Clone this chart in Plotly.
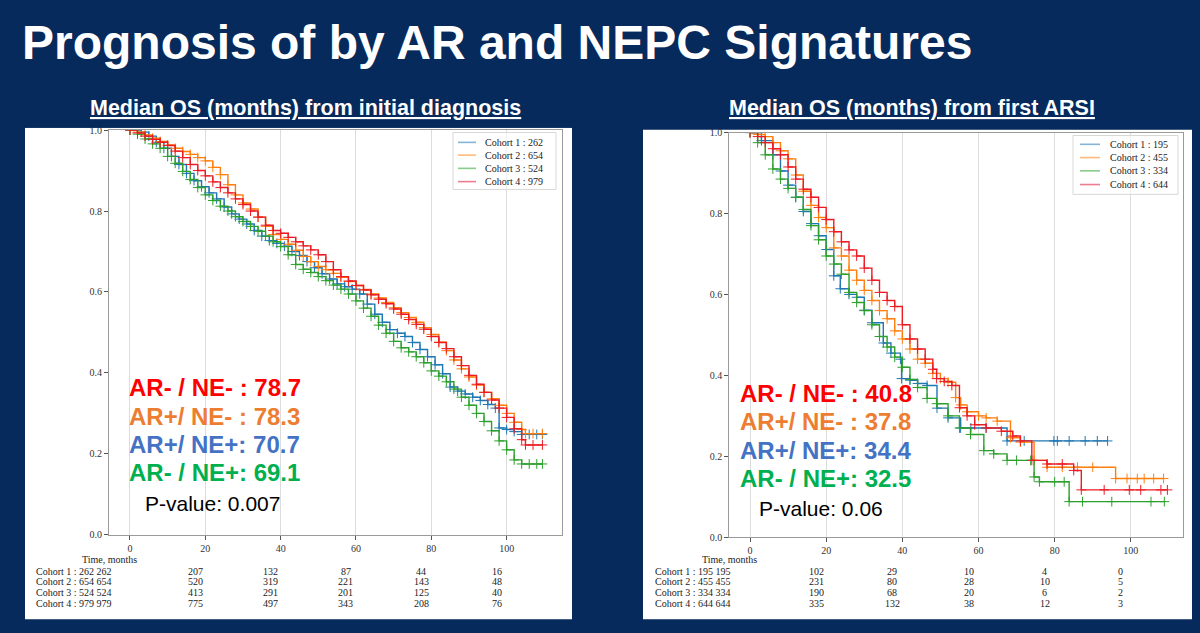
import plotly.graph_objects as go

W, H = 1200, 633
NAVY = "#062a5c"

# ---------------- data ----------------
cohort_names = ["Cohort 1", "Cohort 2", "Cohort 3", "Cohort 4"]
cohort_colors = ["#1f77b4", "#ff7f0e", "#2ca02c", "#ec1c24"]
legend_colors = ["rgba(31,119,180,0.55)", "rgba(255,127,14,0.55)",
                 "rgba(44,160,44,0.55)", "rgba(220,20,60,0.55)"]

left_n = [262, 654, 524, 979]
right_n = [195, 455, 334, 644]

tick_times = [0, 20, 40, 60, 80, 100]
risk_times = [20, 40, 60, 80, 100]

left_risk_c1 = [207, 132, 87, 44, 16]
left_risk_c2 = [520, 319, 221, 143, 48]
left_risk_c3 = [413, 291, 201, 125, 40]
left_risk_c4 = [775, 497, 343, 208, 76]
right_risk_c1 = [102, 29, 10, 4, 0]
right_risk_c2 = [231, 80, 28, 10, 5]
right_risk_c3 = [190, 68, 20, 6, 2]
right_risk_c4 = [335, 132, 38, 12, 3]

group_labels = ["AR- / NE- :", "AR+/ NE- :", "AR+/ NE+:", "AR- / NE+:"]
group_colors = ["#ff0000", "#ed7d31", "#4472c4", "#00b050"]
left_medians = [78.7, 78.3, 70.7, 69.1]
right_medians = [40.8, 37.8, 34.4, 32.5]
left_pvalue = "0.007"
right_pvalue = "0.06"

# Left panel: OS from initial diagnosis (months, survival)
left_c1_t = [0, 3, 5, 7, 9, 11, 13, 15, 17, 19, 21, 23, 25, 27, 29, 31, 33, 35, 37, 39,
             41, 43, 45, 47, 49, 51, 53, 55, 57, 59, 61, 63, 65, 67, 69, 71, 73, 75, 77, 79,
             81, 83, 85, 87, 89, 91, 93, 95, 97, 98, 100, 102, 104, 106, 108, 109.5]
left_c1_s = [1.0, 0.995, 0.985, 0.97, 0.955, 0.935, 0.915, 0.893, 0.875, 0.86,
             0.845, 0.83, 0.81, 0.793, 0.78, 0.768, 0.752, 0.738, 0.727, 0.72,
             0.713, 0.70, 0.69, 0.675, 0.66, 0.645, 0.632, 0.62, 0.613, 0.607,
             0.595, 0.57, 0.545, 0.525, 0.507, 0.498, 0.49, 0.475, 0.458, 0.44,
             0.42, 0.398, 0.365, 0.355, 0.348, 0.34, 0.332, 0.322, 0.313, 0.264,
             0.26, 0.255, 0.248, 0.248, 0.248, 0.248]

left_c2_t = [0, 2, 4, 6, 8, 10, 12, 14, 16, 18, 20, 22, 24, 26, 28, 30, 32, 34, 36, 38,
             40, 42, 44, 46, 48, 50, 52, 54, 56, 58, 60, 62, 64, 66, 68, 70, 72, 74, 76, 78,
             80, 82, 84, 86, 88, 90, 92, 94, 96, 98, 100, 102, 104, 105, 107, 109.5]
left_c2_s = [1.0, 0.995, 0.988, 0.98, 0.972, 0.963, 0.955, 0.947, 0.94, 0.932,
             0.924, 0.908, 0.89, 0.865, 0.84, 0.82, 0.805, 0.785, 0.762, 0.742,
             0.73, 0.718, 0.703, 0.688, 0.675, 0.663, 0.655, 0.646, 0.636, 0.626,
             0.616, 0.606, 0.595, 0.585, 0.574, 0.561, 0.549, 0.537, 0.525, 0.512,
             0.495, 0.476, 0.455, 0.432, 0.41, 0.39, 0.37, 0.352, 0.336, 0.32,
             0.30, 0.278, 0.26, 0.25, 0.25, 0.25]

left_c3_t = [0, 2, 4, 6, 8, 10, 12, 14, 16, 18, 20, 22, 24, 26, 28, 30, 32, 34, 36, 38,
             40, 42, 44, 46, 48, 50, 52, 54, 56, 58, 60, 62, 64, 66, 68, 70, 72, 74, 76, 78,
             80, 82, 84, 86, 88, 90, 92, 94, 96, 98, 100, 102, 104, 106, 108, 109.5]
left_c3_s = [1.0, 0.99, 0.978, 0.966, 0.955, 0.935, 0.918, 0.898, 0.878, 0.858,
             0.84, 0.826, 0.812, 0.80, 0.786, 0.774, 0.762, 0.75, 0.738, 0.724,
             0.712, 0.692, 0.668, 0.656, 0.648, 0.638, 0.628, 0.617, 0.607, 0.595,
             0.578, 0.56, 0.54, 0.518, 0.498, 0.478, 0.462, 0.452, 0.44, 0.425,
             0.405, 0.392, 0.378, 0.36, 0.34, 0.32, 0.30, 0.28, 0.257, 0.232,
             0.21, 0.185, 0.175, 0.175, 0.175, 0.175]

left_c4_t = [0, 2, 4, 6, 8, 10, 12, 14, 16, 18, 20, 22, 24, 26, 28, 30, 32, 34, 36, 38,
             40, 42, 44, 46, 48, 50, 52, 54, 56, 58, 60, 62, 64, 66, 68, 70, 72, 74, 76, 78,
             80, 82, 84, 86, 88, 90, 92, 94, 96, 98, 100, 102, 104, 105, 107, 109.5]
left_c4_s = [1.0, 0.993, 0.985, 0.977, 0.97, 0.962, 0.948, 0.932, 0.915, 0.90,
             0.887, 0.872, 0.858, 0.845, 0.83, 0.816, 0.80, 0.785, 0.765, 0.752,
             0.745, 0.735, 0.724, 0.714, 0.704, 0.692, 0.675, 0.655, 0.638, 0.627,
             0.616, 0.605, 0.593, 0.582, 0.571, 0.558, 0.545, 0.532, 0.52, 0.508,
             0.49, 0.475, 0.46, 0.44, 0.418, 0.394, 0.372, 0.352, 0.333, 0.313,
             0.29, 0.262, 0.235, 0.222, 0.222, 0.222]

# Right panel: OS from first ARSI (months, survival)
right_c1_t = [0, 3, 6, 8, 10, 12, 14, 16, 18, 20, 22, 23.7, 26, 28, 30, 32, 35, 37, 39.5, 39.8,
              42, 44, 46.5, 49.1, 52, 55.3, 58, 62, 67.5, 72, 79.8, 80.7, 83.8, 88, 91.2, 93.9]
right_c1_s = [1.0, 0.98, 0.945, 0.905, 0.87, 0.84, 0.805, 0.775, 0.745, 0.711,
              0.646, 0.614, 0.60, 0.593, 0.561, 0.53, 0.48, 0.455, 0.44, 0.392,
              0.388, 0.38, 0.375, 0.319, 0.295, 0.27, 0.27, 0.27, 0.238, 0.238,
              0.238, 0.238, 0.238, 0.238, 0.238, 0.238]

right_c2_t = [0, 2, 4, 6, 8, 10, 12, 14, 16, 18, 20, 22, 24, 26, 28, 30, 32, 34, 36, 38,
              40, 42, 44, 46, 48, 50, 52, 54, 55.3, 57, 60, 62, 64.9, 68.4, 71, 74.6, 78, 82,
              86, 90, 96, 99, 101.7, 103.5, 106, 108.6]
right_c2_s = [1.0, 0.995, 0.99, 0.975, 0.955, 0.935, 0.895, 0.855, 0.82, 0.79,
              0.765, 0.715, 0.695, 0.66, 0.635, 0.61, 0.585, 0.56, 0.54, 0.51,
              0.49, 0.465, 0.44, 0.43, 0.405, 0.392, 0.383, 0.345, 0.327, 0.31,
              0.30, 0.295, 0.287, 0.246, 0.235, 0.19, 0.173, 0.173, 0.173, 0.173,
              0.145, 0.145, 0.145, 0.145, 0.145, 0.145]

right_c3_t = [0, 2, 4, 6, 8, 10, 12, 14, 16, 18, 20, 22, 24, 26, 28, 30, 32, 34, 36, 38,
              40, 42, 44, 46.5, 49, 52, 55, 57.9, 61.4, 64, 67.5, 70, 73.7, 74.6, 76, 80,
              82.5, 83.8, 87.3, 95, 105.3, 108.8]
right_c3_s = [1.0, 0.975, 0.945, 0.91, 0.885, 0.862, 0.84, 0.81, 0.77, 0.735,
              0.695, 0.675, 0.65, 0.605, 0.58, 0.56, 0.525, 0.496, 0.47, 0.445,
              0.42, 0.39, 0.37, 0.343, 0.33, 0.30, 0.27, 0.254, 0.214, 0.206,
              0.19, 0.19, 0.19, 0.149, 0.137, 0.137, 0.137, 0.088, 0.088, 0.088,
              0.088, 0.088]

right_c4_t = [0, 2, 4, 6, 8, 10, 12, 14, 16, 18, 20, 22, 24, 26, 28, 30, 32, 34, 36, 38,
              40, 42, 44, 46, 48, 49, 51, 53, 55, 57, 59, 62, 66, 69, 71, 74, 78, 82, 85, 87,
              93, 99.6, 102.6, 107.9, 109.6]
right_c4_s = [1.0, 0.99, 0.975, 0.96, 0.945, 0.915, 0.885, 0.86, 0.84, 0.815,
              0.785, 0.755, 0.73, 0.71, 0.695, 0.665, 0.635, 0.605, 0.585, 0.57,
              0.525, 0.49, 0.465, 0.44, 0.415, 0.392, 0.385, 0.375, 0.32, 0.30,
              0.278, 0.27, 0.262, 0.25, 0.238, 0.19, 0.181, 0.181, 0.165, 0.117,
              0.117, 0.117, 0.117, 0.117, 0.117]

title_text = "Prognosis of by AR and NEPC Signatures"
left_heading = "Median OS (months) from initial diagnosis"
right_heading = "Median OS (months) from first ARSI"


# ---------------- helpers ----------------
def px(x):
    return x / W


def py(y):
    return 1 - y / H


SERIF = "Liberation Serif, Times New Roman, serif"
SANS = "Liberation Sans, Arial, sans-serif"

fig = go.Figure()

panels = [
    dict(xa="x", ya="y", curves=[(left_c1_t, left_c1_s), (left_c2_t, left_c2_s),
                                 (left_c3_t, left_c3_s), (left_c4_t, left_c4_s)]),
    dict(xa="x2", ya="y2", curves=[(right_c1_t, right_c1_s), (right_c2_t, right_c2_s),
                                   (right_c3_t, right_c3_s), (right_c4_t, right_c4_s)]),
]

for p in panels:
    for i, (t, s) in enumerate(p["curves"]):
        fig.add_trace(go.Scatter(
            x=t, y=s, mode="lines+markers", xaxis=p["xa"], yaxis=p["ya"],
            line=dict(color=cohort_colors[i], width=1.4, shape="hv"),
            marker=dict(symbol="cross-thin", size=7,
                        line=dict(color=cohort_colors[i], width=1)),
            showlegend=False, hoverinfo="skip"))

axis_common = dict(
    showline=True, mirror=True, linecolor="#9a9a9a", linewidth=1,
    ticks="outside", ticklen=4, tickcolor="#555",
    tickfont=dict(family=SERIF, size=10, color="#333"),
    zeroline=False,
)

fig.update_layout(
    width=W, height=H,
    margin=dict(l=0, r=0, t=0, b=0),
    paper_bgcolor=NAVY, plot_bgcolor="white",
    showlegend=False,
    xaxis=dict(domain=[px(109), px(562)], range=[-5.57, 114.7], tickvals=tick_times,
               showgrid=True, gridcolor="#dcdcdc", gridwidth=1, anchor="y", **axis_common),
    yaxis=dict(domain=[py(539), py(126.5)], range=[0, 1.0],
               tickvals=[0, 0.2, 0.4, 0.6, 0.8, 1.0],
               ticktext=["0.0", "0.2", "0.4", "0.6", "0.8", "1.0"],
               showgrid=False, anchor="x", **axis_common),
    xaxis2=dict(domain=[px(729.3), px(1183)], range=[-5.44, 113.7], tickvals=tick_times,
                showgrid=True, gridcolor="#dcdcdc", gridwidth=1, anchor="y2", **axis_common),
    yaxis2=dict(domain=[py(541.5), py(129)], range=[0, 1.0],
                tickvals=[0, 0.2, 0.4, 0.6, 0.8, 1.0],
                ticktext=["0.0", "0.2", "0.4", "0.6", "0.8", "1.0"],
                showgrid=False, anchor="x2", **axis_common),
)

shapes = []
# white panels
shapes.append(dict(type="rect", xref="paper", yref="paper", x0=px(25), x1=px(572),
                   y0=py(625), y1=py(124), fillcolor="white", line=dict(width=0), layer="below"))
shapes.append(dict(type="rect", xref="paper", yref="paper", x0=px(643), x1=px(1192),
                   y0=py(625), y1=py(126), fillcolor="white", line=dict(width=0), layer="below"))
# navy strips that crop the top of the panels
shapes.append(dict(type="rect", xref="paper", yref="paper", x0=px(20), x1=px(580),
                   y0=py(124), y1=py(118), fillcolor=NAVY, line=dict(width=0), layer="above"))
shapes.append(dict(type="rect", xref="paper", yref="paper", x0=px(640), x1=px(1198),
                   y0=py(126), y1=py(120), fillcolor=NAVY, line=dict(width=0), layer="above"))

annotations = []

# legends (drawn manually)
legend_specs = [
    dict(box=(453, 556, 129, 187), line=(458, 476), text_x=483, rows=[139, 152, 165.5, 179], n=left_n),
    dict(box=(1073, 1178, 132, 192), line=(1080, 1100), text_x=1108, rows=[141, 154.5, 168, 182], n=right_n),
]
for spec in legend_specs:
    x0, x1, y0, y1 = spec["box"]
    shapes.append(dict(type="rect", xref="paper", yref="paper", x0=px(x0), x1=px(x1),
                       y0=py(y1), y1=py(y0), fillcolor="rgba(255,255,255,0.6)",
                       line=dict(color="#d8d8d8", width=1), layer="above"))
    for i, yy in enumerate(spec["rows"]):
        shapes.append(dict(type="line", xref="paper", yref="paper",
                           x0=px(spec["line"][0]), x1=px(spec["line"][1]), y0=py(yy), y1=py(yy),
                           line=dict(color=legend_colors[i], width=1.6), layer="above"))
        annotations.append(dict(xref="paper", yref="paper", x=px(spec["text_x"]), y=py(yy),
                                xanchor="left", yanchor="middle", showarrow=False,
                                text=f"{cohort_names[i]} : {spec['n'][i]}",
                                font=dict(family=SERIF, size=10, color="#222")))

# title and headings
annotations.append(dict(xref="paper", yref="paper", x=px(20), y=py(37), xanchor="left",
                        yanchor="middle", showarrow=False, text=title_text,
                        font=dict(family=SANS, size=48, color="white", weight=700)))
annotations.append(dict(xref="paper", yref="paper", x=px(305), y=py(104), xanchor="center",
                        yanchor="middle", showarrow=False, text=left_heading,
                        font=dict(family=SANS, size=21.5, color="white", weight=700,
                                  lineposition="under")))
annotations.append(dict(xref="paper", yref="paper", x=px(912), y=py(104), xanchor="center",
                        yanchor="middle", showarrow=False, text=right_heading,
                        font=dict(family=SANS, size=21.5, color="white", weight=700,
                                  lineposition="under")))

# median OS labels and p-values
median_specs = [
    dict(x=127, rows=[389, 418, 447, 476], pv_x=143, pv_y=507, med=left_medians, pv=left_pvalue),
    dict(x=738, rows=[395, 424, 453, 482], pv_x=757, pv_y=512, med=right_medians, pv=right_pvalue),
]
for spec in median_specs:
    for i, yy in enumerate(spec["rows"]):
        annotations.append(dict(xref="paper", yref="paper", x=px(spec["x"]), y=py(yy),
                                xanchor="left", yanchor="middle", showarrow=False,
                                text=f"{group_labels[i]} {spec['med'][i]}",
                                font=dict(family=SANS, size=24, color=group_colors[i], weight=700)))
    annotations.append(dict(xref="paper", yref="paper", x=px(spec["pv_x"]), y=py(spec["pv_y"]),
                            xanchor="left", yanchor="middle", showarrow=False,
                            text=f"P-value: {spec['pv']}",
                            font=dict(family=SANS, size=21, color="black")))

# at-risk tables
table_specs = [
    dict(xref="x", label_x=34, time_x=109.5, rows=[576, 587, 598, 609], n=left_n,
         risk=[left_risk_c1, left_risk_c2, left_risk_c3, left_risk_c4]),
    dict(xref="x2", label_x=653, time_x=729.5, rows=[576, 587, 598, 609], n=right_n,
         risk=[right_risk_c1, right_risk_c2, right_risk_c3, right_risk_c4]),
]
for spec in table_specs:
    annotations.append(dict(xref="paper", yref="paper", x=px(spec["time_x"]), y=py(564),
                            xanchor="center", yanchor="middle", showarrow=False,
                            text="Time, months", font=dict(family=SERIF, size=10, color="#222")))
    for i, yy in enumerate(spec["rows"]):
        annotations.append(dict(xref="paper", yref="paper", x=px(spec["label_x"]), y=py(yy),
                                xanchor="left", yanchor="middle", showarrow=False,
                                text=f"{cohort_names[i]} : {spec['n'][i]} {spec['n'][i]}",
                                font=dict(family=SERIF, size=10, color="#222")))
        for t, v in zip(risk_times, spec["risk"][i]):
            annotations.append(dict(xref=spec["xref"], yref="paper", x=t, y=py(yy),
                                    xanchor="center", yanchor="middle", showarrow=False,
                                    xshift=-10, text=str(v),
                                    font=dict(family=SERIF, size=10, color="#222")))

fig.update_layout(shapes=shapes, annotations=annotations)
fig.write_html("out.html")
